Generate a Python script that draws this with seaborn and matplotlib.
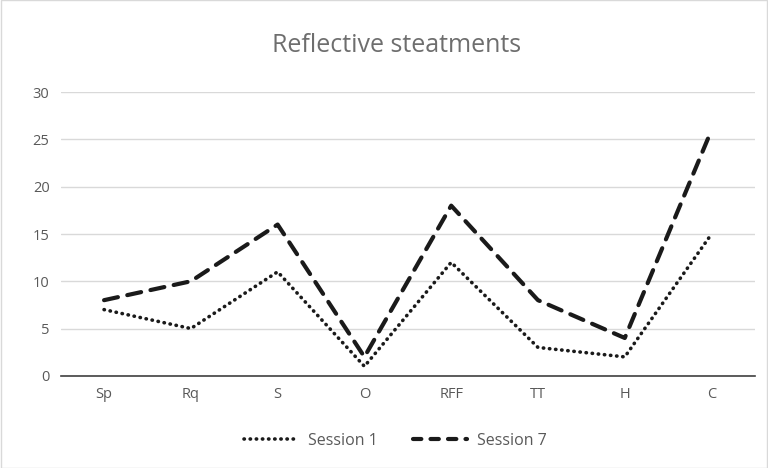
import matplotlib
matplotlib.use("Agg")
import matplotlib.pyplot as plt
import seaborn as sns
import pandas as pd
from matplotlib.lines import Line2D

categories = ["Sp", "Rq", "S", "O", "RFF", "TT", "H", "C"]
session1 = [7, 5, 11, 1, 12, 3, 2, 15]
session7 = [8, 10, 16, 2, 18, 8, 4, 26]
series_names = ["Session 1", "Session 7"]
title = "Reflective steatments"

sns.set_theme(style="white")
plt.rcParams['font.family'] = ['Open Sans', 'DejaVu Sans']

df = pd.DataFrame({
    "x": list(range(len(categories))) * 2,
    "value": session1 + session7,
    "series": [series_names[0]] * len(categories) + [series_names[1]] * len(categories),
})

fig = plt.figure(figsize=(7.68, 4.68), dpi=100)
ax = fig.add_axes([0.079, 0.197, 0.904, 0.606])

dot_dash = (0.1, 1.6)
long_dash = (3.4, 2.3)
sns.lineplot(data=df, x="x", y="value", hue="series", style="series",
             palette={series_names[0]: "#1a1a1a", series_names[1]: "#1a1a1a"},
             dashes={series_names[0]: dot_dash, series_names[1]: long_dash},
             ax=ax, legend=False, sort=False)
lines = ax.get_lines()
lines[0].set_linewidth(2.6)
lines[0].set_dash_capstyle("round")
lines[1].set_linewidth(3.0)
lines[1].set_dash_capstyle("round")

ax.set_xlim(-0.5, len(categories) - 0.5)
ax.set_ylim(0, 30)
ax.set_yticks(range(0, 31, 5))
ax.set_xticks(range(len(categories)))
ax.set_xticklabels(categories)
ax.grid(axis="y", color="#d9d9d9", linewidth=1)
ax.set_axisbelow(True)
for s in ["top", "right", "left"]:
    ax.spines[s].set_visible(False)
ax.spines["bottom"].set_color("#404040")
ax.spines["bottom"].set_linewidth(1.2)
ax.tick_params(axis="both", length=0, labelsize=10.5, colors="#595959", pad=8)
ax.set_xlabel("")
ax.set_ylabel("")

fig.text(0.516, 0.888, title, ha="center", va="baseline", fontsize=18, color="#6e6e6e")

handles = [Line2D([0], [0], color="#1a1a1a", lw=2.6, dashes=dot_dash, dash_capstyle="round"),
           Line2D([0], [0], color="#1a1a1a", lw=3.0, dashes=(2.0, 2.2), dash_capstyle="round")]
leg = fig.legend(handles, series_names, loc="center", bbox_to_anchor=(0.515, 0.058),
                 ncol=2, frameon=False, fontsize=11.5, handlelength=3.4, columnspacing=2.2,
                 handletextpad=0.6)
for t in leg.get_texts():
    t.set_color("#595959")

fig.patches.append(plt.Rectangle((0.001, 0.001), 0.998, 0.998, transform=fig.transFigure,
                                 fill=False, edgecolor="#d9d9d9", linewidth=1))
fig.savefig("out.png", dpi=100)
